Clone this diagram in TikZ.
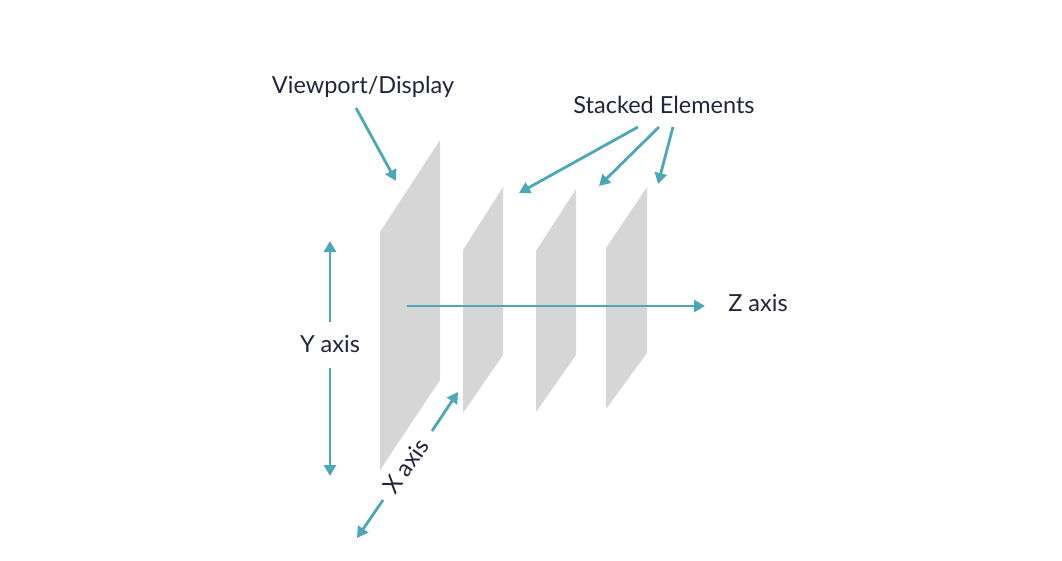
\documentclass[tikz,border=0pt]{standalone}
\usepackage{fontspec}
\setmainfont{Lato}
\usetikzlibrary{arrows.meta}
\definecolor{teal}{HTML}{4AA8B8}
\definecolor{plane}{HTML}{D6D6D6}
\definecolor{ink}{HTML}{22243D}
\begin{document}
\begin{tikzpicture}[x=1pt,y=-1pt,
  layer/.style={fill=plane,draw=none},
  axisarrow/.style={draw=teal,line width=2.8pt,-{Triangle[length=11pt,width=12pt]}},
  label/.style={text=ink,font=\fontsize{23.5}{27}\selectfont,inner sep=0pt}]
\useasboundingbox (0,0) rectangle (1062,560);
% display plane and the three stacked layers
\fill[layer] (380,232) -- (440,140) -- (440,380) -- (380,470) -- cycle;
\fill[layer] (463,250) -- (503,187) -- (503,355) -- (463,413) -- cycle;
\fill[layer] (536,251) -- (576,189) -- (576,355) -- (536,412) -- cycle;
\fill[layer] (606,248) -- (647,187) -- (647,353) -- (606,409) -- cycle;
% labels
\node[label] (vp) at (363,87) {Viewport/Display};
\node[label] (se) at (664,105) {Stacked Elements};
\node[label] (za) at (758,303) {Z axis};
\node[label] (ya) at (330,344) {Y axis};
\node[label,rotate=55] (xa) at (406,466) {X axis};
% arrow end points
\coordinate (vpS) at (356,108);  \coordinate (vpE) at (396,181);
\coordinate (s1S) at (638,127);  \coordinate (s1E) at (519,193);
\coordinate (s2S) at (659,127);  \coordinate (s2E) at (599,186);
\coordinate (s3S) at (673,127);  \coordinate (s3E) at (658,184);
\coordinate (zS) at (407,306);   \coordinate (zE) at (705,306);
\coordinate (yT1) at (330,322);  \coordinate (yE1) at (330,241);
\coordinate (yT2) at (330,368);  \coordinate (yE2) at (330,476);
\coordinate (xT1) at (432,431);  \coordinate (xE1) at (458,392);
\coordinate (xT2) at (383,500);  \coordinate (xE2) at (357,538);
% connectors
\draw[axisarrow] (vpS) -- (vpE);
\draw[axisarrow] (s1S) -- (s1E);
\draw[axisarrow] (s2S) -- (s2E);
\draw[axisarrow] (s3S) -- (s3E);
\draw[axisarrow] (zS) -- (zE);
\draw[axisarrow] (yT1) -- (yE1);
\draw[axisarrow] (yT2) -- (yE2);
\draw[axisarrow] (xT1) -- (xE1);
\draw[axisarrow] (xT2) -- (xE2);
\end{tikzpicture}
\end{document}
